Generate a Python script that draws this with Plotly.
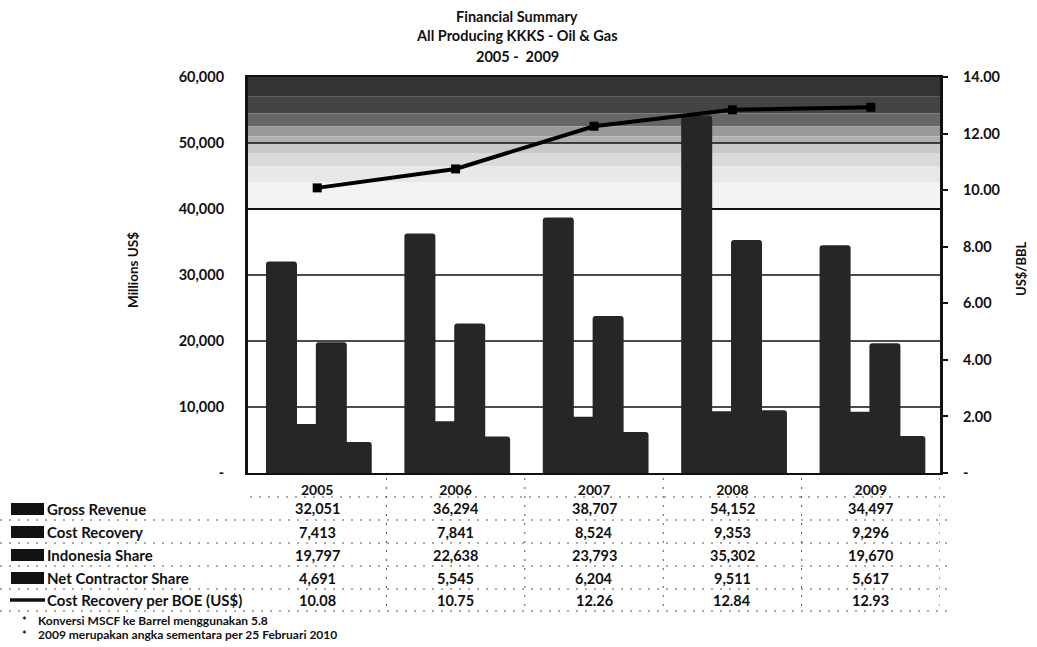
import plotly.graph_objects as go

# ---- data ----
years = ["2005", "2006", "2007", "2008", "2009"]
gross_revenue = [32051, 36294, 38707, 54152, 34497]
cost_recovery = [7413, 7841, 8524, 9353, 9296]
indonesia_share = [19797, 22638, 23793, 35302, 19670]
net_contractor_share = [4691, 5545, 6204, 9511, 5617]
cost_per_boe = [10.08, 10.75, 12.26, 12.84, 12.93]

bar_series = [
    ("Gross Revenue", gross_revenue),
    ("Cost Recovery", cost_recovery),
    ("Indonesia Share", indonesia_share),
    ("Net Contractor Share", net_contractor_share),
]
line_label = "Cost Recovery per BOE (US$)"

left_ticks = [0, 10000, 20000, 30000, 40000, 50000, 60000]
right_ticks = [0, 2, 4, 6, 8, 10, 12, 14]

footnotes = [
    "Konversi MSCF ke Barrel menggunakan 5.8",
    "2009 merupakan angka sementara per 25 Februari 2010",
]

# ---- layout geometry (pixels) ----
W, H = 1037, 647
L, R, T, B = 248, 97, 77, 174
PW, PH = W - L - R, H - T - B

FONT = "Lato"
INK = "#111"
BAR_COLOR = "#262626"

xpos = list(range(len(years)))  # one slot per year


def px_x(px):
    return (px - L) / PW


def px_y(py):
    return (H - B - py) / PH


def bold(size):
    return dict(family=FONT, size=size, color=INK, weight="bold")


fig = go.Figure()

# bars: overlapping Excel-style clustered columns
bar_width = 0.224
bar_step = 0.18
first_offset = -0.37
for i, (name, vals) in enumerate(bar_series):
    fig.add_trace(go.Bar(
        x=xpos, y=vals, name=name,
        width=bar_width,
        offset=first_offset + i * bar_step,
        marker=dict(color=BAR_COLOR, line=dict(width=0), cornerradius=3),
        showlegend=False,
    ))

fig.add_trace(go.Scatter(
    x=xpos, y=cost_per_boe, yaxis="y2", mode="lines+markers",
    line=dict(color="black", width=4),
    marker=dict(symbol="square", size=9, color="black"),
    showlegend=False, name=line_label,
))

shapes = []
annotations = []

# shaded top band of the plot area (darkest at the top, fading downward)
band_edges = [60000, 57000, 54500, 52500, 51000, 50000, 48500, 46500, 44000, 40000]
band_fills = ["#333333", "#444444", "#666666", "#999999", "#b0b0b0",
              "#c8c8c8", "#dadada", "#e8e8e8", "#f3f3f3"]
for top, bot, c in zip(band_edges[:-1], band_edges[1:], band_fills):
    shapes.append(dict(type="rect", xref="paper", yref="y", x0=0, x1=1, y0=bot, y1=top,
                       fillcolor=c, line=dict(width=0), layer="below"))

# gridlines drawn over the shading, under the bars
for v in left_ticks[1:-1]:
    shapes.append(dict(type="line", xref="paper", yref="y", x0=0, x1=1, y0=v, y1=v,
                       line=dict(color=INK, width=2 if v == 40000 else 1.5), layer="below"))

# ---- data table below the plot ----
row_py = [509, 532, 555, 578, 600]
row_labels = [s[0] for s in bar_series] + [line_label]
row_values = [[f"{v:,}" for v in s[1]] for s in bar_series] + [[f"{v:.2f}" for v in cost_per_boe]]

for py, label, vals in zip(row_py, row_labels, row_values):
    annotations.append(dict(xref="paper", yref="paper", x=px_x(45), y=px_y(py),
                            text=label, showarrow=False, xanchor="left", yanchor="middle",
                            font=bold(15)))
    for xp, v in zip(xpos, vals):
        annotations.append(dict(xref="x", yref="paper", x=xp, y=px_y(py),
                                text=v, showarrow=False, xanchor="center", yanchor="middle",
                                font=bold(14.5)))

# legend keys in the table
for py in row_py[:4]:
    shapes.append(dict(type="rect", xref="paper", yref="paper",
                       x0=px_x(11), x1=px_x(44), y0=px_y(py + 6), y1=px_y(py - 6),
                       fillcolor=INK, line=dict(width=0)))
shapes.append(dict(type="line", xref="paper", yref="paper",
                   x0=px_x(10), x1=px_x(45), y0=px_y(row_py[4]), y1=px_y(row_py[4]),
                   line=dict(color=INK, width=3.5)))

# dotted table rules
DOT = dict(color="#555", width=1, dash="2px,7px")
for py in [497, 520, 543, 566, 589, 611]:
    x0 = 250 if py == 497 else 0
    shapes.append(dict(type="line", xref="paper", yref="paper",
                       x0=px_x(x0), x1=px_x(950), y0=px_y(py), y1=px_y(py), line=DOT))
for k in range(len(years)):
    xb = k + 0.5
    shapes.append(dict(type="line", xref="x", yref="paper",
                       x0=xb, x1=xb, y0=px_y(478), y1=px_y(612), line=DOT))

# footnotes
for py, note in zip([620, 634], footnotes):
    annotations.append(dict(xref="paper", yref="paper", x=px_x(20), y=px_y(py),
                            text="*", showarrow=False, xanchor="left", yanchor="middle",
                            font=bold(11)))
    annotations.append(dict(xref="paper", yref="paper", x=px_x(36), y=px_y(py),
                            text=note, showarrow=False, xanchor="left", yanchor="middle",
                            font=bold(12)))

# title
for py, line in zip([16, 36, 56], ["Financial Summary", "All Producing KKKS - Oil & Gas", "2005 -  2009"]):
    annotations.append(dict(xref="paper", yref="paper", x=px_x(517), y=px_y(py),
                            text=line, showarrow=False, xanchor="center", yanchor="middle",
                            font=bold(14.5)))

# axis titles
annotations.append(dict(xref="paper", yref="paper", x=px_x(133), y=px_y(270),
                        text="Millions US$", textangle=-90, showarrow=False,
                        xanchor="center", yanchor="middle", font=bold(13.5)))
annotations.append(dict(xref="paper", yref="paper", x=px_x(1021), y=px_y(268),
                        text="US$/BBL", textangle=-90, showarrow=False,
                        xanchor="center", yanchor="middle", font=bold(13)))

fig.update_layout(
    width=W, height=H,
    margin=dict(l=L, r=R, t=T, b=B, pad=0),
    paper_bgcolor="white", plot_bgcolor="white",
    barmode="overlay",
    shapes=shapes, annotations=annotations,
    xaxis=dict(range=[-0.5, len(years) - 0.5], tickvals=xpos, ticktext=years,
               showline=True, linecolor=INK, linewidth=2, mirror=True,
               showgrid=False, zeroline=False, ticks="", tickfont=bold(14),
               ticklabelstandoff=3),
    yaxis=dict(range=[0, 60000], tickvals=left_ticks,
               ticktext=["-" if v == 0 else f"{v:,}" for v in left_ticks],
               showgrid=False, zeroline=False,
               showline=True, linecolor=INK, linewidth=3,
               ticks="", tickfont=bold(14.5), ticklabelstandoff=18),
    yaxis2=dict(range=[0, 14], overlaying="y", side="right",
                tickvals=right_ticks,
                ticktext=["-" if v == 0 else f"{v:.2f}" for v in right_ticks],
                showgrid=False, zeroline=False,
                showline=True, linecolor=INK, linewidth=3,
                ticks="outside", ticklen=5, tickwidth=2, tickcolor=INK,
                tickfont=bold(14.5), ticklabelstandoff=12),
    font=dict(family=FONT, color=INK),
)

fig.write_html("out.html")
